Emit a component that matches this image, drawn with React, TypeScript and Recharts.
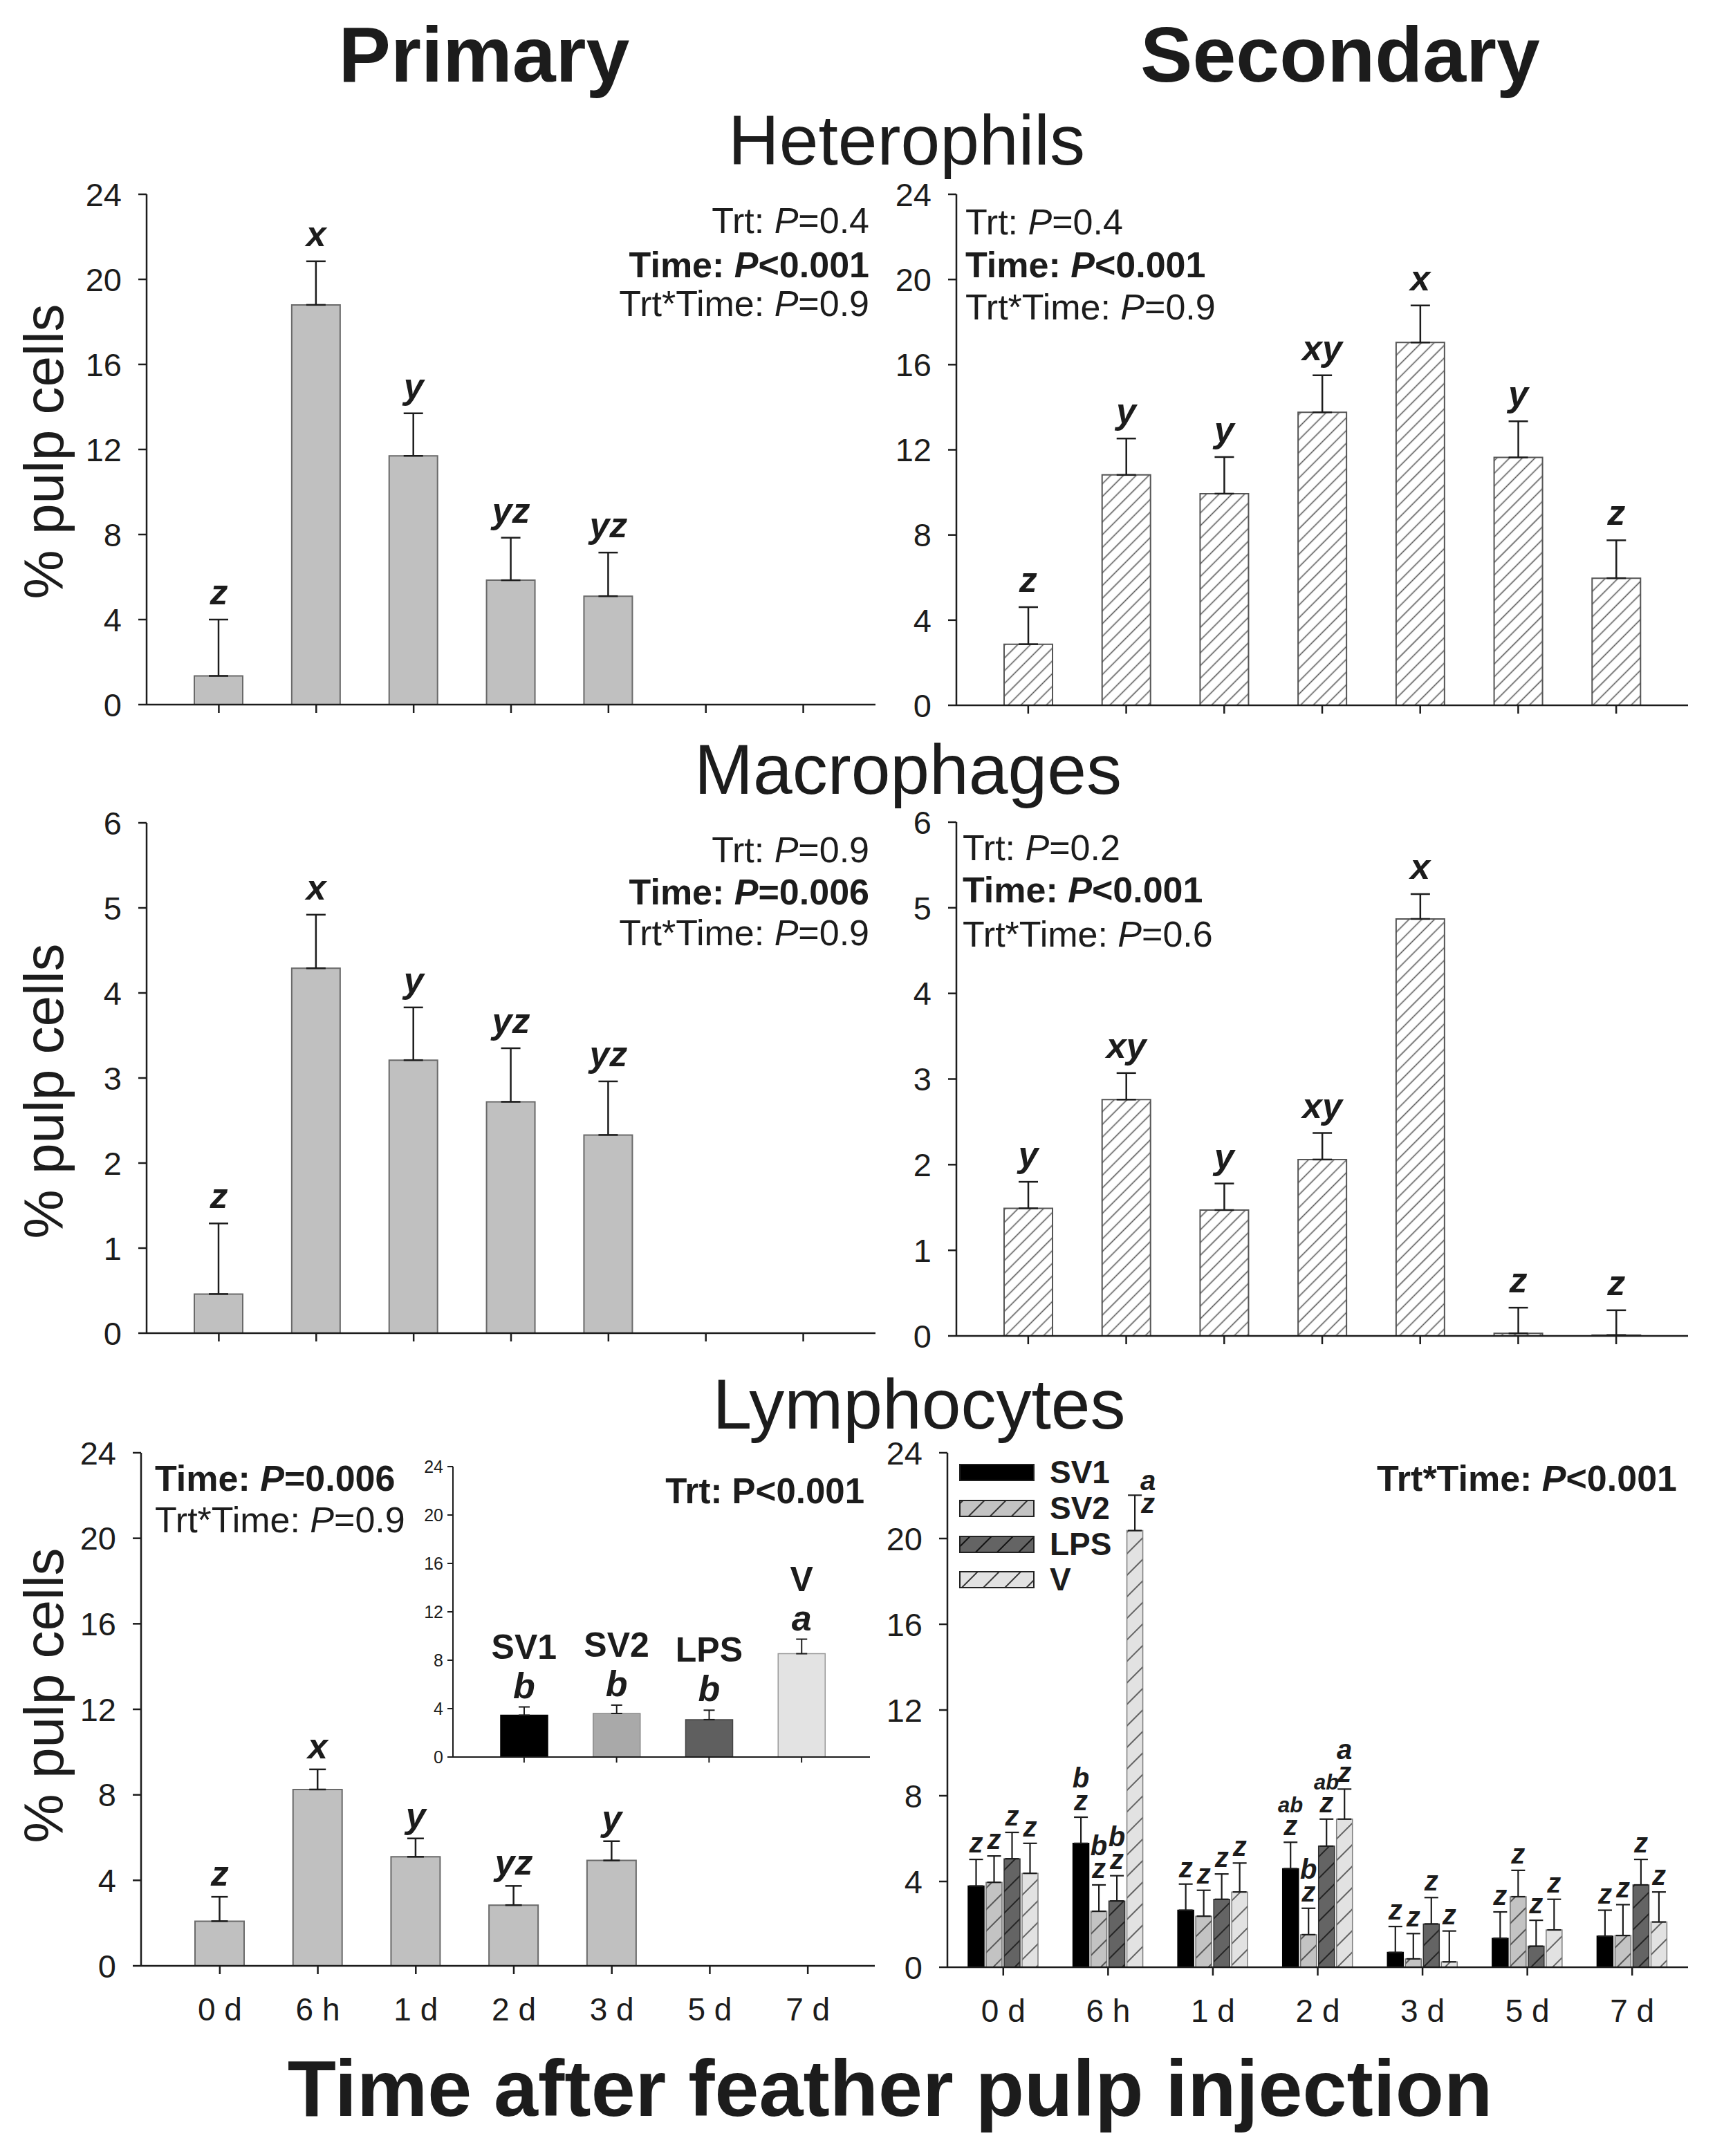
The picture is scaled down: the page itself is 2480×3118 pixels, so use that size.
import React from 'react';
import { ComposedChart, Bar, XAxis, YAxis, ErrorBar, Line, LabelList, Cell } from 'recharts';

const FONT = '"Liberation Sans", Arial, Helvetica, sans-serif';
const INK = '#1c1c1c';

// ---------------- data ----------------
const timeLabels = ['0 d', '6 h', '1 d', '2 d', '3 d', '5 d', '7 d'];
const yTicks24 = [0, 4, 8, 12, 16, 20, 24];
const yTicks6 = [0, 1, 2, 3, 4, 5, 6];

// Heterophils
const hetPrimMean = [1.35, 18.8, 11.7, 5.85, 5.1, null, null];
const hetPrimErr = [2.65, 2.05, 2.0, 2.0, 2.05, null, null];
const hetPrimLetters = ['z', 'x', 'y', 'yz', 'yz', '', ''];
const hetSecMean = [2.87, 10.82, 9.94, 13.76, 17.04, 11.64, 5.97];
const hetSecErr = [1.74, 1.71, 1.72, 1.74, 1.74, 1.7, 1.78];
const hetSecLetters = ['z', 'y', 'y', 'xy', 'x', 'y', 'z'];

// Macrophages
const macPrimMean = [0.46, 4.29, 3.21, 2.72, 2.33, null, null];
const macPrimErr = [0.83, 0.63, 0.62, 0.63, 0.63, null, null];
const macPrimLetters = ['z', 'x', 'y', 'yz', 'yz', '', ''];
const macSecMean = [1.49, 2.76, 1.47, 2.06, 4.87, 0.03, 0.01];
const macSecErr = [0.31, 0.31, 0.31, 0.31, 0.29, 0.3, 0.29];
const macSecLetters = ['y', 'xy', 'y', 'xy', 'x', 'z', 'z'];

// Lymphocytes, primary
const lymPrimMean = [2.09, 8.25, 5.1, 2.84, 4.93, null, null];
const lymPrimErr = [1.14, 0.94, 0.86, 0.9, 0.9, null, null];
const lymPrimLetters = ['z', 'x', 'y', 'yz', 'y', '', ''];

// Lymphocytes, primary inset (treatment means)
const trtNames = ['SV1', 'SV2', 'LPS', 'V'];
const insetMean = [3.46, 3.6, 3.09, 8.54];
const insetErr = [0.68, 0.69, 0.78, 1.2];
const insetLetters = ['b', 'b', 'b', 'a'];

// Lymphocytes, secondary (by treatment)
const lymSV1Mean = [3.79, 5.78, 2.66, 4.6, 0.69, 1.35, 1.45];
const lymSV1Err = [1.24, 1.22, 1.22, 1.23, 1.21, 1.23, 1.21];
const lymSV1Trt = ['', 'b', '', 'ab', '', '', ''];
const lymSV2Mean = [3.96, 2.61, 2.38, 1.52, 0.39, 3.29, 1.48];
const lymSV2Err = [1.23, 1.23, 1.21, 1.23, 1.18, 1.23, 1.44];
const lymSV2Trt = ['', 'b', '', 'b', '', '', ''];
const lymLPSMean = [5.06, 3.09, 3.17, 5.65, 2.02, 0.98, 3.84];
const lymLPSErr = [1.23, 1.18, 1.18, 1.26, 1.23, 1.21, 1.19];
const lymLPSTrt = ['', 'b', '', 'ab', '', '', ''];
const lymVMean = [4.38, 20.37, 3.51, 6.91, 0.25, 1.74, 2.11];
const lymVErr = [1.4, 1.65, 1.35, 1.4, 1.44, 1.43, 1.4];
const lymVTrt = ['', 'a', '', 'a', '', '', ''];
const lymTimeLetters = ['z', 'z', 'z', 'z', 'z', 'z', 'z'];

// ---------------- layout ----------------
type Geo = { left: number; right: number; top: number; bottom: number; padL: number; padR: number };
const G: Record<string, Geo> = {
  hetP: { left: 212, right: 1266, top: 281, bottom: 1019, padL: 34, padR: 34 },
  hetS: { left: 1383, right: 2441, top: 281, bottom: 1020, padL: 33, padR: 33 },
  macP: { left: 212, right: 1266, top: 1190, bottom: 1928, padL: 34, padR: 34 },
  macS: { left: 1383, right: 2441, top: 1189, bottom: 1932, padL: 33, padR: 33 },
  lymP: { left: 204, right: 1265, top: 2101, bottom: 2843, padL: 43, padR: 26 },
  lymS: { left: 1370, right: 2441, top: 2101, bottom: 2845, padL: 5, padR: 5 },
  inset: { left: 655, right: 1258, top: 2121, bottom: 2541, padL: 36, padR: 32 },
};
const YW = 130;
const MT = 40;
const MR = 12;

const axisStyle = { stroke: INK, strokeWidth: 2.5 };
const tickFont = { fontSize: 47, fill: INK, fontFamily: FONT };

function hatch(id: string, bg: string, line: string, period: number, lw: number, angle = 45) {
  return (
    <pattern id={id} patternUnits="userSpaceOnUse" width={period} height={period} patternTransform={`rotate(${angle})`}>
      <rect x={0} y={0} width={period} height={period} fill={bg} />
      <line x1={period / 2} y1={0} x2={period / 2} y2={period} stroke={line} strokeWidth={lw} />
    </pattern>
  );
}

function buildSingle(means: (number | null)[], errs: (number | null)[], letters: string[], names = timeLabels) {
  return names.map((name, i) => ({
    name,
    mean: means[i],
    err: errs[i] == null ? null : [0, errs[i] as number],
    top: means[i] == null ? null : (means[i] as number) + (errs[i] as number),
    letter: letters[i],
  }));
}

const letterStyle = { fontFamily: FONT, fontWeight: 700, fontStyle: 'italic' as const, fill: INK };

function singleLetter(size: number, gap: number) {
  return (props: any) => {
    const vb = props.viewBox || {};
    const x = vb.x ?? props.x;
    const y = vb.y ?? props.y;
    const v = props.value;
    if (!v || y == null || !isFinite(y)) return null;
    return (
      <text x={x} y={y - gap} textAnchor="middle" fontSize={size} {...letterStyle}>
        {v}
      </text>
    );
  };
}

type SingleProps = {
  geo: Geo;
  data: any[];
  yMax: number;
  yTicks: number[];
  fill: string;
  stroke: string;
  barSize: number;
  capHalf: number;
  letterGap: number;
  showXLabels: boolean;
  defs?: React.ReactNode;
};

function SinglePanel({ geo, data, yMax, yTicks, fill, stroke, barSize, capHalf, letterGap, showXLabels, defs }: SingleProps) {
  const plotW = geo.right - geo.left;
  const plotH = geo.bottom - geo.top;
  const XH = showXLabels ? 130 : 40;
  const W = YW + plotW + MR;
  const H = MT + plotH + XH;
  return (
    <div style={{ position: 'absolute', left: geo.left - YW, top: geo.top - MT, width: W, height: H }}>
      <ComposedChart width={W} height={H} data={data} margin={{ top: MT, right: MR, bottom: 0, left: 0 }}>
        <defs>{defs}</defs>
        <XAxis
          dataKey="name"
          height={XH}
          padding={{ left: geo.padL, right: geo.padR }}
          interval={0}
          tickSize={12}
          tickMargin={34}
          axisLine={axisStyle}
          tickLine={axisStyle}
          tick={{ ...tickFont, fontSize: 46 }}
          tickFormatter={showXLabels ? undefined : () => ''}
        />
        <XAxis xAxisId="top" orientation="top" dataKey="name" height={0} tick={false} tickLine={false} axisLine={axisStyle} padding={{ left: geo.padL, right: geo.padR }} />
        <YAxis
          type="number"
          domain={[0, yMax]}
          ticks={yTicks}
          interval={0}
          width={YW}
          tickSize={12}
          tickMargin={24}
          axisLine={axisStyle}
          tickLine={axisStyle}
          tick={tickFont}
          allowDataOverflow
        />
        <YAxis yAxisId="right" orientation="right" width={0} domain={[0, 1]} tick={false} tickLine={false} axisLine={axisStyle} />
        <Bar dataKey="mean" fill={fill} stroke={stroke} strokeWidth={2} barSize={barSize} isAnimationActive={false}>
          <ErrorBar dataKey="err" width={capHalf} stroke={INK} strokeWidth={2.5} direction="y" />
        </Bar>
        <Line dataKey="top" stroke="none" dot={false} activeDot={false} isAnimationActive={false} legendType="none">
          <LabelList dataKey="letter" content={singleLetter(52, letterGap)} />
        </Line>
      </ComposedChart>
    </div>
  );
}

// ---------- inset ----------
const insetFills = ['#000000', '#a9a9a9', '#5f5f5f', '#e3e3e3'];
const insetStrokes = ['#000000', '#8a8a8a', '#444444', '#9a9a9a'];

function insetLabel(props: any) {
  const vb = props.viewBox || {};
  const x = vb.x ?? props.x;
  const y = vb.y ?? props.y;
  const i = props.index;
  if (i == null || y == null || !isFinite(y)) return null;
  return (
    <g>
      <text x={x} y={y - 70} textAnchor="middle" fontSize={50} fontFamily={FONT} fontWeight={700} fill={INK}>
        {trtNames[i]}
      </text>
      <text x={x} y={y - 13} textAnchor="middle" fontSize={52} {...letterStyle}>
        {props.value}
      </text>
    </g>
  );
}

function InsetPanel() {
  const geo = G.inset;
  const data = buildSingle(insetMean, insetErr, insetLetters, trtNames);
  const yw = 60;
  const it = 18;
  const plotW = geo.right - geo.left;
  const plotH = geo.bottom - geo.top;
  const XH = 20;
  const W = yw + plotW + 6;
  const H = it + plotH + XH;
  const small = { stroke: INK, strokeWidth: 2 };
  return (
    <div style={{ position: 'absolute', left: geo.left - yw, top: geo.top - it, width: W, height: H }}>
      <ComposedChart width={W} height={H} data={data} margin={{ top: it, right: 6, bottom: 0, left: 0 }}>
        <XAxis dataKey="name" height={XH} padding={{ left: geo.padL, right: geo.padR }} interval={0} tickSize={8} axisLine={small} tickLine={small} tickFormatter={() => ''} />
        <XAxis xAxisId="top" orientation="top" dataKey="name" height={0} tick={false} tickLine={false} axisLine={small} padding={{ left: geo.padL, right: geo.padR }} />
        <YAxis type="number" domain={[0, 24]} ticks={yTicks24} interval={0} width={yw} tickSize={8} tickMargin={6} axisLine={small} tickLine={small} tick={{ fontSize: 25, fill: INK, fontFamily: FONT }} />
        <YAxis yAxisId="right" orientation="right" width={0} domain={[0, 1]} tick={false} tickLine={false} axisLine={small} />
        <Bar dataKey="mean" barSize={68} strokeWidth={1.5} isAnimationActive={false}>
          {data.map((d, i) => (
            <Cell key={d.name} fill={insetFills[i]} stroke={insetStrokes[i]} />
          ))}
          <ErrorBar dataKey="err" width={8} stroke={INK} strokeWidth={2} direction="y" />
        </Bar>
        <Line dataKey="top" stroke="none" dot={false} activeDot={false} isAnimationActive={false} legendType="none">
          <LabelList dataKey="letter" content={insetLabel} />
        </Line>
      </ComposedChart>
    </div>
  );
}

// ---------- grouped lymphocyte secondary ----------
const groupSeries = [
  { key: 'SV1', mean: lymSV1Mean, err: lymSV1Err, trt: lymSV1Trt },
  { key: 'SV2', mean: lymSV2Mean, err: lymSV2Err, trt: lymSV2Trt },
  { key: 'LPS', mean: lymLPSMean, err: lymLPSErr, trt: lymLPSTrt },
  { key: 'V', mean: lymVMean, err: lymVErr, trt: lymVTrt },
];
const groupStyle: Record<string, { fill: string; stroke: string; legendFill: string }> = {
  SV1: { fill: '#000000', stroke: '#000000', legendFill: '#000000' },
  SV2: { fill: 'url(#gSV2)', stroke: '#6e6e6e', legendFill: 'url(#lgSV2)' },
  LPS: { fill: 'url(#gLPS)', stroke: '#2e2e2e', legendFill: 'url(#lgLPS)' },
  V: { fill: 'url(#gV)', stroke: '#7e7e7e', legendFill: 'url(#lgV)' },
};

const lymSecData = timeLabels.map((name, i) => {
  const row: any = { name };
  groupSeries.forEach((s) => {
    row[s.key] = s.mean[i];
    row[s.key + '_e'] = [0, s.err[i]];
  });
  return row;
});

function groupLabel(s: (typeof groupSeries)[number]) {
  return (props: any) => {
    const i = props.index;
    const vb = props.viewBox || props;
    if (i == null || !vb || !(vb.height > 0)) return null;
    const m = s.mean[i];
    const e = s.err[i];
    const cx = vb.x + vb.width / 2;
    const capY = vb.y - (e * vb.height) / m;
    const lines = [s.trt[i], lymTimeLetters[i]].filter(Boolean);
    const n = lines.length;
    let x = cx;
    let base = capY - 10;
    if (capY - 10 - 33 * (n - 1) - 30 < MT) {
      x = cx + 19;
      base = capY + 26;
    }
    return (
      <g>
        {lines.map((t, k) => (
          <text
            key={k}
            x={x}
            y={base - 33 * (n - 1 - k)}
            textAnchor="middle"
            fontSize={t.length > 1 ? 31 : 40}
            {...letterStyle}
          >
            {t}
          </text>
        ))}
      </g>
    );
  };
}

function GroupPanel() {
  const geo = G.lymS;
  const plotW = geo.right - geo.left;
  const plotH = geo.bottom - geo.top;
  const XH = 130;
  const W = YW + plotW + MR;
  const H = MT + plotH + XH;
  return (
    <div style={{ position: 'absolute', left: geo.left - YW, top: geo.top - MT, width: W, height: H }}>
      <ComposedChart width={W} height={H} data={lymSecData} margin={{ top: MT, right: MR, bottom: 0, left: 0 }} barGap={3}>
        <defs>
          {hatch('gSV2', '#c3c3c3', '#4a4a4a', 22, 1.8)}
          {hatch('gLPS', '#646464', '#1e1e1e', 22, 1.8)}
          {hatch('gV', '#e2e2e2', '#555555', 22, 1.8)}
        </defs>
        <XAxis
          dataKey="name"
          height={XH}
          padding={{ left: geo.padL, right: geo.padR }}
          interval={0}
          tickSize={12}
          tickMargin={34}
          axisLine={axisStyle}
          tickLine={axisStyle}
          tick={{ ...tickFont, fontSize: 46 }}
        />
        <XAxis xAxisId="top" orientation="top" dataKey="name" height={0} tick={false} tickLine={false} axisLine={axisStyle} padding={{ left: geo.padL, right: geo.padR }} />
        <YAxis type="number" domain={[0, 24]} ticks={yTicks24} interval={0} width={YW} tickSize={12} tickMargin={24} axisLine={axisStyle} tickLine={axisStyle} tick={tickFont} allowDataOverflow />
        <YAxis yAxisId="right" orientation="right" width={0} domain={[0, 1]} tick={false} tickLine={false} axisLine={axisStyle} />
        {groupSeries.map((s) => (
          <Bar key={s.key} dataKey={s.key} fill={groupStyle[s.key].fill} stroke={groupStyle[s.key].stroke} strokeWidth={1.5} barSize={23} isAnimationActive={false}>
            <ErrorBar dataKey={s.key + '_e'} width={10} stroke={INK} strokeWidth={2.2} direction="y" />
            <LabelList dataKey={s.key} content={groupLabel(s)} />
          </Bar>
        ))}
      </ComposedChart>
    </div>
  );
}

// ---------- annotations ----------
function PLine({ x, y, anchor, label, p, bold }: { x: number; y: number; anchor: 'start' | 'end'; label: string; p: string; bold?: boolean }) {
  return (
    <text x={x} y={y} textAnchor={anchor} fontSize={52} fontFamily={FONT} fontWeight={bold ? 700 : 400} fill={INK}>
      {label}
      <tspan fontStyle="italic">P</tspan>
      {p}
    </text>
  );
}

function Overlay() {
  const legendRows = [2118, 2170, 2222, 2273];
  return (
    <svg width={2480} height={3118} style={{ position: 'absolute', left: 0, top: 0, pointerEvents: 'none' }}>
      <defs>
        {hatch('lgSV2', '#c3c3c3', '#333333', 22, 2)}
        {hatch('lgLPS', '#646464', '#111111', 22, 2)}
        {hatch('lgV', '#e2e2e2', '#333333', 22, 2)}
      </defs>
      {/* column titles */}
      <text x={700} y={118} textAnchor="middle" fontSize={113} fontWeight={700} fontFamily={FONT} fill={INK}>Primary</text>
      <text x={1938} y={118} textAnchor="middle" fontSize={113} fontWeight={700} fontFamily={FONT} fill={INK}>Secondary</text>
      {/* cell type titles */}
      <text x={1311} y={238} textAnchor="middle" fontSize={102} fontFamily={FONT} fill={INK}>Heterophils</text>
      <text x={1313} y={1148} textAnchor="middle" fontSize={102} fontFamily={FONT} fill={INK}>Macrophages</text>
      <text x={1329} y={2066} textAnchor="middle" fontSize={102} fontFamily={FONT} fill={INK}>Lymphocytes</text>
      {/* y labels */}
      {[653, 1578, 2452].map((cy) => (
        <text key={cy} transform={`translate(63, ${cy}) rotate(-90)`} textAnchor="middle" dominantBaseline="central" fontSize={80} fontFamily={FONT} fill={INK}>
          % pulp cells
        </text>
      ))}
      {/* x title */}
      <text x={1287} y={3060} textAnchor="middle" fontSize={115} fontWeight={700} fontFamily={FONT} fill={INK}>Time after feather pulp injection</text>

      {/* P values: heterophils */}
      <PLine x={1257} y={337} anchor="end" label="Trt: " p="=0.4" />
      <PLine x={1257} y={401} anchor="end" label="Time: " p="<0.001" bold />
      <PLine x={1257} y={457} anchor="end" label="Trt*Time: " p="=0.9" />
      <PLine x={1396} y={339} anchor="start" label="Trt: " p="=0.4" />
      <PLine x={1396} y={401} anchor="start" label="Time: " p="<0.001" bold />
      <PLine x={1396} y={462} anchor="start" label="Trt*Time: " p="=0.9" />
      {/* macrophages */}
      <PLine x={1257} y={1247} anchor="end" label="Trt: " p="=0.9" />
      <PLine x={1257} y={1308} anchor="end" label="Time: " p="=0.006" bold />
      <PLine x={1257} y={1367} anchor="end" label="Trt*Time: " p="=0.9" />
      <PLine x={1392} y={1244} anchor="start" label="Trt: " p="=0.2" />
      <PLine x={1392} y={1305} anchor="start" label="Time: " p="<0.001" bold />
      <PLine x={1392} y={1369} anchor="start" label="Trt*Time: " p="=0.6" />
      {/* lymphocytes */}
      <PLine x={224} y={2156} anchor="start" label="Time: " p="=0.006" bold />
      <PLine x={224} y={2216} anchor="start" label="Trt*Time: " p="=0.9" />
      <text x={1250} y={2174} textAnchor="end" fontSize={51} fontWeight={700} fontFamily={FONT} fill={INK}>Trt: P{'<'}0.001</text>
      <PLine x={2425} y={2156} anchor="end" label="Trt*Time: " p="<0.001" bold />

      {/* legend */}
      {groupSeries.map((s, i) => (
        <g key={s.key}>
          <rect x={1388} y={legendRows[i]} width={107} height={23} fill={groupStyle[s.key].legendFill} stroke="#222" strokeWidth={2} />
          <text x={1518} y={legendRows[i] + 27} fontSize={46} fontWeight={700} fontFamily={FONT} fill={INK}>{s.key}</text>
        </g>
      ))}
    </svg>
  );
}

export default function App() {
  const hetPData = buildSingle(hetPrimMean, hetPrimErr, hetPrimLetters);
  const hetSData = buildSingle(hetSecMean, hetSecErr, hetSecLetters);
  const macPData = buildSingle(macPrimMean, macPrimErr, macPrimLetters);
  const macSData = buildSingle(macSecMean, macSecErr, macSecLetters);
  const lymPData = buildSingle(lymPrimMean, lymPrimErr, lymPrimLetters);
  return (
    <div style={{ position: 'absolute', left: 0, top: 0, width: 2480, height: 3118, background: '#ffffff', fontFamily: FONT }}>
      <SinglePanel geo={G.hetP} data={hetPData} yMax={24} yTicks={yTicks24} fill="#c0c0c0" stroke="#6a6a6a" barSize={70} capHalf={14} letterGap={22} showXLabels={false} />
      <SinglePanel
        geo={G.hetS}
        data={hetSData}
        yMax={24}
        yTicks={yTicks24}
        fill="url(#hHet)"
        stroke="#555555"
        barSize={70}
        capHalf={14}
        letterGap={22}
        showXLabels={false}
        defs={hatch('hHet', '#ffffff', '#5a5a5a', 13, 1.6)}
      />
      <SinglePanel geo={G.macP} data={macPData} yMax={6} yTicks={yTicks6} fill="#c0c0c0" stroke="#6a6a6a" barSize={70} capHalf={14} letterGap={22} showXLabels={false} />
      <SinglePanel
        geo={G.macS}
        data={macSData}
        yMax={6}
        yTicks={yTicks6}
        fill="url(#hMac)"
        stroke="#555555"
        barSize={70}
        capHalf={14}
        letterGap={22}
        showXLabels={false}
        defs={hatch('hMac', '#ffffff', '#5a5a5a', 13, 1.6)}
      />
      <SinglePanel geo={G.lymP} data={lymPData} yMax={24} yTicks={yTicks24} fill="#c0c0c0" stroke="#6a6a6a" barSize={71} capHalf={12} letterGap={16} showXLabels={true} />
      <InsetPanel />
      <GroupPanel />
      <Overlay />
    </div>
  );
}
